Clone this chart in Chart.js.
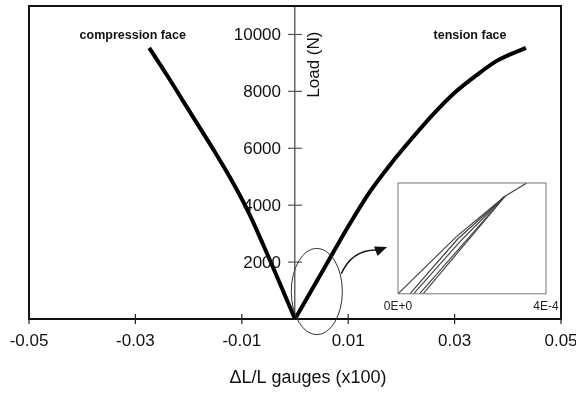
<!DOCTYPE html>
<html lang="en">
  <head>
    <meta charset="UTF-8" />
    <title>Load vs strain gauges</title>
    <style>
      body {
        margin: 0;
        background: #fff;
        font-family: Arial, "Liberation Sans", sans-serif;
      }
      .wrap {
        position: relative;
        width: 576px;
        height: 393px;
      }
      #insetChart {
        position: absolute;
        left: 378px;
        top: 178px;
      }
    </style>
    <script src="https://cdn.jsdelivr.net/npm/chart.js"></script>
  </head>
  <body>
    <div class="wrap">
      <canvas id="mainChart" width="576" height="393"></canvas>
      <canvas id="insetChart" width="190" height="145"></canvas>
    </div>

    <script>
      // main chart values
      const xTicks = [-0.05, -0.03, -0.01, 0.01, 0.03, 0.05];
      const yTicks = [2000, 4000, 6000, 8000, 10000];

      const compressionStrain = [0, -0.003, -0.006, -0.009, -0.012, -0.015, -0.018, -0.021, -0.024, -0.0274];
      const compressionLoad = [0, 1320, 2620, 3850, 4900, 5850, 6750, 7650, 8550, 9530];

      const tensionStrain = [0, 0.006, 0.01, 0.014, 0.018, 0.022, 0.026, 0.03, 0.034, 0.038, 0.0434];
      const tensionLoad = [0, 1950, 3250, 4450, 5450, 6350, 7200, 7950, 8550, 9080, 9530];

      // zoomed inset: loading/unloading cycles near the origin
      const insetTicks = [0, 0.0004];
      const insetTickLabels = ["0E+0", "4E-4"];
      const cycleAStrain = [0, 0.000158, 0.000289, 0.000348];
      const cycleALoad = [0, 516, 880, 1000];
      const cycleBStrain = [0.000032, 0.00016, 0.000289];
      const cycleBLoad = [0, 490, 880];
      const cycleCStrain = [0.000042, 0.00017, 0.000289];
      const cycleCLoad = [0, 480, 880];
      const cycleDStrain = [0.000058, 0.000289];
      const cycleDLoad = [0, 880];
      const cycleEStrain = [0.000068, 0.000289];
      const cycleELoad = [0, 880];

      const toPoints = (xs, ys) => xs.map((x, i) => ({ x: x, y: ys[i] }));

      const framePlugin = {
        id: "frame",
        afterDraw(chart, args, opts) {
          const { ctx, chartArea } = chart;
          ctx.save();
          ctx.strokeStyle = opts.color;
          ctx.lineWidth = opts.width;
          ctx.strokeRect(
            chartArea.left,
            chartArea.top,
            chartArea.right - chartArea.left,
            chartArea.bottom - chartArea.top
          );
          ctx.restore();
        },
      };

      const noEdgePadding = (scale) => {
        scale.paddingLeft = 0;
        scale.paddingRight = 0;
        scale.paddingTop = 0;
        scale.paddingBottom = 0;
      };

      // tick marks crossing the axes, y labels, texts, ellipse and arrow
      const extrasPlugin = {
        id: "extras",
        afterDraw(chart) {
          const ctx = chart.ctx;
          const xs = chart.scales.x;
          const ys = chart.scales.y;
          const area = chart.chartArea;
          const x0 = xs.getPixelForValue(0);

          ctx.save();
          ctx.strokeStyle = "#222";
          ctx.lineWidth = 1.2;
          xs.ticks.forEach((t) => {
            const px = xs.getPixelForValue(t.value);
            ctx.beginPath();
            ctx.moveTo(px, area.bottom - 5);
            ctx.lineTo(px, area.bottom + 5);
            ctx.stroke();
          });
          ctx.strokeStyle = "#555";
          ctx.fillStyle = "#111";
          ctx.font = "17px Arial";
          ctx.textAlign = "right";
          ctx.textBaseline = "middle";
          ys.ticks.forEach((t) => {
            const py = ys.getPixelForValue(t.value);
            ctx.beginPath();
            ctx.moveTo(x0 - 7, py);
            ctx.lineTo(x0 + 7, py);
            ctx.stroke();
            ctx.fillText(String(t.value), x0 - 14, py + 1);
          });

          // ellipse round the origin region
          const cx = xs.getPixelForValue(0.0041);
          const cy = ys.getPixelForValue(966);
          const rx = xs.getPixelForValue(0.0041 + 0.0048) - cx;
          const ry = cy - ys.getPixelForValue(966 + 1517);
          ctx.strokeStyle = "#333";
          ctx.lineWidth = 1;
          ctx.beginPath();
          ctx.ellipse(cx, cy, rx, ry, 0, 0, Math.PI * 2);
          ctx.stroke();

          // curved arrow towards the inset
          const ax = xs.getPixelForValue(0.0087);
          const ay = ys.getPixelForValue(1590);
          const qx = xs.getPixelForValue(0.0108);
          const qy = ys.getPixelForValue(2480);
          const tx = xs.getPixelForValue(0.0173);
          const ty = ys.getPixelForValue(2530);
          ctx.strokeStyle = "#111";
          ctx.lineWidth = 1.5;
          ctx.beginPath();
          ctx.moveTo(ax, ay);
          ctx.quadraticCurveTo(qx, qy, tx - 8, ty + 3);
          ctx.stroke();
          const ang = Math.atan2(-3, 8);
          ctx.fillStyle = "#111";
          ctx.beginPath();
          ctx.moveTo(tx, ty);
          ctx.lineTo(tx - 12 * Math.cos(ang) + 5 * Math.sin(ang), ty - 12 * Math.sin(ang) - 5 * Math.cos(ang));
          ctx.lineTo(tx - 12 * Math.cos(ang) - 5 * Math.sin(ang), ty - 12 * Math.sin(ang) + 5 * Math.cos(ang));
          ctx.closePath();
          ctx.fill();

          // texts
          ctx.textAlign = "center";
          ctx.textBaseline = "middle";
          ctx.font = "bold 12.5px Arial";
          ctx.fillText("compression face", xs.getPixelForValue(-0.0305), ys.getPixelForValue(9950));
          ctx.fillText("tension face", xs.getPixelForValue(0.0329), ys.getPixelForValue(9950));

          ctx.font = "17px Arial";
          ctx.save();
          ctx.translate(xs.getPixelForValue(0.0036), ys.getPixelForValue(8940));
          ctx.rotate(-Math.PI / 2);
          ctx.fillText("Load (N)", 0, 0);
          ctx.restore();

          ctx.font = "18px Arial";
          ctx.fillText("\u0394L/L gauges (x100)", (area.left + area.right) / 2 + 13, area.bottom + 59);
          ctx.restore();
        },
      };

      new Chart(document.getElementById("mainChart").getContext("2d"), {
        type: "scatter",
        data: {
          datasets: [
            {
              label: "compression face",
              data: toPoints(compressionStrain, compressionLoad),
              showLine: true,
              borderColor: "#000",
              borderWidth: 4,
              pointRadius: 0,
              cubicInterpolationMode: "monotone",
            },
            {
              label: "tension face",
              data: toPoints(tensionStrain, tensionLoad),
              showLine: true,
              borderColor: "#000",
              borderWidth: 4,
              pointRadius: 0,
              cubicInterpolationMode: "monotone",
            },
          ],
        },
        options: {
          responsive: false,
          animation: false,
          layout: { padding: { left: 29, right: 15, top: 6, bottom: 29.6 } },
          plugins: {
            legend: { display: false },
            tooltip: { enabled: false },
            frame: { color: "#111", width: 2 },
          },
          scales: {
            x: {
              type: "linear",
              min: -0.05,
              max: 0.05,
              afterBuildTicks: (scale) => {
                scale.ticks = xTicks.map((v) => ({ value: v }));
              },
              afterFit: noEdgePadding,
              grid: { display: false, drawTicks: false },
              border: { display: true, color: "#111", width: 2 },
              ticks: {
                autoSkip: false,
                maxRotation: 0,
                padding: 12,
                color: "#111",
                font: { family: "Arial", size: 17 },
                callback: (v) => String(v),
              },
            },
            y: {
              type: "linear",
              position: { x: 0 },
              min: 0,
              max: 11000,
              afterBuildTicks: (scale) => {
                scale.ticks = yTicks.map((v) => ({ value: v }));
              },
              afterFit: noEdgePadding,
              grid: { display: false, drawTicks: false },
              border: { display: true, color: "#666", width: 1.5 },
              ticks: { display: false },
            },
          },
        },
        plugins: [framePlugin, extrasPlugin],
      });

      const cycleStyle = {
        showLine: true,
        borderColor: "#444",
        borderWidth: 1.2,
        pointRadius: 0,
      };

      new Chart(document.getElementById("insetChart").getContext("2d"), {
        type: "scatter",
        data: {
          datasets: [
            { data: toPoints(cycleAStrain, cycleALoad), ...cycleStyle },
            { data: toPoints(cycleBStrain, cycleBLoad), ...cycleStyle },
            { data: toPoints(cycleCStrain, cycleCLoad), ...cycleStyle },
            { data: toPoints(cycleDStrain, cycleDLoad), ...cycleStyle },
            { data: toPoints(cycleEStrain, cycleELoad), ...cycleStyle },
          ],
        },
        options: {
          responsive: false,
          animation: false,
          layout: { padding: { left: 20, right: 22, top: 5, bottom: 2.8 } },
          plugins: {
            legend: { display: false },
            tooltip: { enabled: false },
            frame: { color: "#777", width: 1 },
          },
          scales: {
            x: {
              type: "linear",
              min: 0,
              max: 0.0004,
              afterBuildTicks: (scale) => {
                scale.ticks = insetTicks.map((v) => ({ value: v }));
              },
              afterFit: noEdgePadding,
              grid: { display: false, drawTicks: false },
              border: { display: false },
              ticks: {
                autoSkip: false,
                maxRotation: 0,
                padding: 6,
                color: "#222",
                font: { family: "Arial", size: 12 },
                callback: (v, i) => insetTickLabels[i],
              },
            },
            y: {
              type: "linear",
              display: false,
              min: 0,
              max: 1000,
            },
          },
        },
        plugins: [framePlugin],
      });
    </script>
  </body>
</html>
